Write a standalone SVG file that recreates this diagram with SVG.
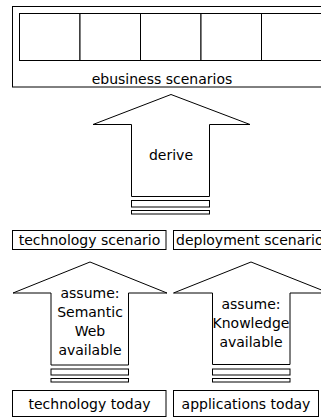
<svg xmlns="http://www.w3.org/2000/svg" width="321" height="418" viewBox="0 0 321 418">
  <style>
    .box { fill: #fff; stroke: #000; stroke-width: 1; }
    .arrow { fill: #fff; stroke: #000; stroke-width: 1; stroke-linejoin: miter; }
    .lbl { font-family: "DejaVu Sans", Verdana, sans-serif; font-size: 14px; fill: #000; }
    .mid { text-anchor: middle; }
  </style>
  <rect width="321" height="418" fill="#fff"/>

  <!-- top: scenario container with five cells -->
  <g id="ebusiness">
    <rect class="box" x="12.5" y="6.5" width="330" height="80.5"/>
    <rect class="box" x="19.5" y="13.5" width="60.5" height="47"/>
    <rect class="box" x="80" y="13.5" width="60.5" height="47"/>
    <rect class="box" x="140.5" y="13.5" width="60.5" height="47"/>
    <rect class="box" x="201" y="13.5" width="60.5" height="47"/>
    <rect class="box" x="261.5" y="13.5" width="61" height="47"/>
    <text class="lbl mid" x="162" y="84">ebusiness scenarios</text>
  </g>

  <g id="connectors">
    <!-- derive arrow -->
    <g id="derive">
      <path class="arrow" d="M131.5,196.5 V124.5 H93 L171,94.5 L250,124.5 H209.5 V196.5 Z"/>
      <rect class="box" x="131.5" y="200.5" width="78" height="6.5"/>
      <rect class="box" x="131.5" y="210.5" width="78" height="3.5"/>
      <text class="lbl mid" x="171" y="160">derive</text>
    </g>
    <!-- assume arrow (technology) -->
    <g id="assume-tech">
      <path class="arrow" d="M51,365 V293 H13 L90,262 L167,293 H128.5 V365 Z"/>
      <rect class="box" x="51" y="369" width="77.5" height="6"/>
      <rect class="box" x="51" y="378.5" width="77.5" height="3.5"/>
      <text class="lbl mid" x="90" y="298">assume:</text>
      <text class="lbl mid" x="90" y="317">Semantic</text>
      <text class="lbl mid" x="90" y="336">Web</text>
      <text class="lbl mid" x="90" y="355">available</text>
    </g>
    <!-- assume arrow (applications) -->
    <g id="assume-app">
      <path class="arrow" d="M212.5,364.5 V293 H173.5 L251,262 L329,293 H290 V364.5 Z"/>
      <rect class="box" x="212.5" y="369" width="77.5" height="6"/>
      <rect class="box" x="212.5" y="378.5" width="77.5" height="3.5"/>
      <text class="lbl mid" x="251" y="309">assume:</text>
      <text class="lbl mid" x="251" y="328">Knowledge</text>
      <text class="lbl mid" x="251" y="347">available</text>
    </g>
  </g>

  <!-- middle row -->
  <g id="technology-scenario">
    <rect class="box" x="12.5" y="230.5" width="153.5" height="19"/>
    <text class="lbl mid" x="89.5" y="245">technology scenario</text>
  </g>
  <g id="deployment-scenario">
    <rect class="box" x="173.5" y="230.5" width="160" height="19"/>
    <text class="lbl" x="176" y="245">deployment scenario</text>
  </g>

  <!-- bottom row -->
  <g id="technology-today">
    <rect class="box" x="12.5" y="390.5" width="153.5" height="26"/>
    <text class="lbl mid" x="89.5" y="409">technology today</text>
  </g>
  <g id="applications-today">
    <rect class="box" x="173.5" y="390.5" width="145" height="26"/>
    <text class="lbl mid" x="246" y="409">applications today</text>
  </g>
</svg>
